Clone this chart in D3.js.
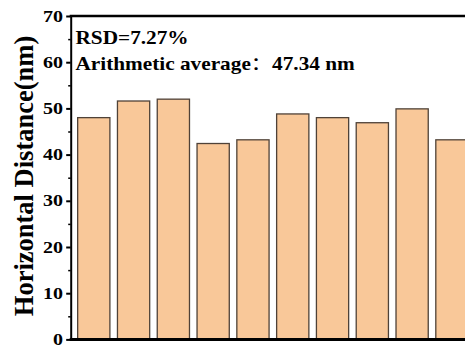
<!DOCTYPE html>
<html>
<head>
<meta charset="utf-8">
<title>Horizontal Distance bar chart</title>
<script src="https://d3js.org/d3.v7.min.js"></script>
<style>
  body { margin:0; background:#fff; }
  text { font-family: "Liberation Serif", "Times New Roman", serif; font-weight: bold; }
</style>
</head>
<body>
<script>
// data
var samples = ["1","2","3","4","5","6","7","8","9","10"];
var distances = [48.0, 51.6, 52.0, 42.4, 43.2, 48.8, 48.0, 46.9, 49.9, 43.2];
var yTicks = [0, 10, 20, 30, 40, 50, 60, 70];
var notes = ["RSD=7.27%", "Arithmetic average：47.34 nm"];

var width = 465, height = 347;
var plotLeft = 70.7, plotTop = 16, plotBottom = 339.4, plotRight = 475;

var svg = d3.select("body").append("svg")
    .attr("width", width)
    .attr("height", height);

var x = d3.scaleBand()
    .domain(samples)
    .range([plotLeft, plotRight])
    .paddingInner(0.19)
    .paddingOuter(0.175);

var y = d3.scaleLinear()
    .domain([0, 70])
    .range([plotBottom, plotTop]);

// bars
svg.selectAll("rect.bar")
    .data(distances)
    .enter()
    .append("rect")
    .attr("class", "bar")
    .attr("x", function(d, i) { return x(samples[i]); })
    .attr("y", function(d) { return y(d); })
    .attr("width", x.bandwidth())
    .attr("height", function(d) { return y(0) - y(d); })
    .attr("fill", "#f9c899")
    .attr("stroke", "#4f4238")
    .attr("stroke-width", 1.3);

// minor ticks
var yMinor = d3.axisLeft(y).tickValues(d3.range(5, 70, 10)).tickSize(2.5).tickFormat("");
svg.append("g").attr("transform", "translate(" + plotLeft + ",0)").call(yMinor)
    .call(function(g) { g.select(".domain").remove(); })
    .selectAll("line").attr("stroke", "#000").attr("stroke-width", 1.5);

// left axis
var yAxis = d3.axisLeft(y).tickValues(yTicks).tickSize(4.5).tickSizeOuter(0).tickPadding(1.7);
var gy = svg.append("g").attr("transform", "translate(" + plotLeft + ",0)").call(yAxis);
gy.select(".domain").attr("stroke", "#000").attr("stroke-width", 2);
gy.selectAll(".tick line").attr("stroke", "#000").attr("stroke-width", 2);
gy.selectAll(".tick text")
    .attr("font-size", 16)
    .attr("fill", "#000")
    .attr("transform", "scale(1.25,1)");

// bottom axis line and top frame line
var xAxis = d3.axisBottom(x).tickSize(0).tickFormat("");
svg.append("g").attr("transform", "translate(0," + plotBottom + ")").call(xAxis)
    .select(".domain").attr("stroke", "#000").attr("stroke-width", 3)
    .attr("d", "M" + (plotLeft - 1) + ",0H" + plotRight);

svg.append("line")
    .attr("x1", plotLeft - 1).attr("x2", plotRight)
    .attr("y1", plotTop).attr("y2", plotTop)
    .attr("stroke", "#000").attr("stroke-width", 2.3);

// annotations (full-width colon drawn with the SC font)
svg.selectAll("text.note")
    .data(notes)
    .enter()
    .append("text")
    .attr("class", "note")
    .attr("transform", function(d, i) { return "translate(75.5," + (44 + i * 26) + ") scale(1.15,1)"; })
    .attr("font-size", 18.5)
    .attr("fill", "#000")
    .each(function(d) {
        var t = d3.select(this);
        d.split(/(：)/).forEach(function(part) {
            var s = t.append("tspan").text(part);
            if (part === "：") s.style("font-family", "'Noto Sans CJK SC'").style("font-weight", "normal");
        });
    });

// y label
svg.append("text")
    .attr("transform", "translate(33," + 176 + ") rotate(-90)")
    .attr("text-anchor", "middle")
    .attr("font-size", 26.5)
    .attr("fill", "#000")
    .text("Horizontal Distance(nm)");
</script>
</body>
</html>
